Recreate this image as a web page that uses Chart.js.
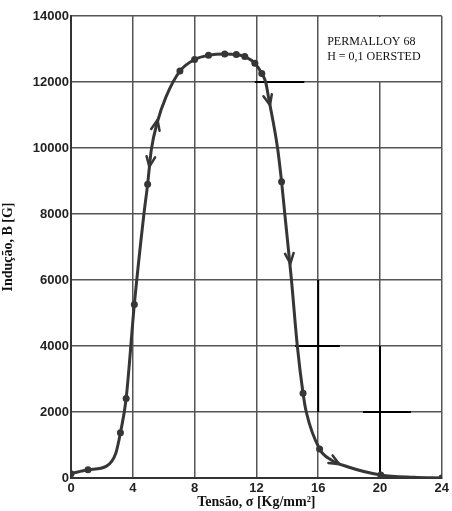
<!DOCTYPE html>
<html>
<head>
<meta charset="utf-8">
<script src="https://cdn.jsdelivr.net/npm/chart.js@4"></script>
<style>
  body { margin: 0; background: #fff; }
  #wrap { width: 452px; height: 511px; }
</style>
</head>
<body>
<div id="wrap"><canvas id="myChart"></canvas></div>
<script>
(function(){
// curve B(sigma)
const curveX = [0, 1.1, 2.3, 2.9, 3.2, 3.57, 4.1, 4.72, 4.96, 5.2, 5.6, 6.15, 7.05, 8.0, 8.9, 9.95, 10.7, 11.25, 11.9, 12.35, 12.6, 12.8, 13.37, 13.63, 13.84, 14.27, 14.65, 15.02, 15.23, 16.09, 16.84, 17.9, 20.05, 22.2, 24];
const curveY = [130, 250, 360, 750, 1370, 2410, 5260, 8000, 8900, 9950, 10800, 11550, 12330, 12680, 12810, 12850, 12830, 12770, 12570, 12260, 12000, 11500, 10000, 8980, 8000, 6000, 4000, 2570, 2000, 880, 545, 340, 90, 20, 0];

// measured points (dots)
const markX = [0, 1.1, 3.2, 3.57, 4.1, 4.96, 7.05, 8.0, 8.9, 9.95, 10.7, 11.25, 11.9, 12.35, 13.63, 15.02, 16.09, 20.05, 24];
const markY = [130, 250, 1370, 2410, 5260, 8900, 12330, 12680, 12810, 12850, 12830, 12770, 12570, 12260, 8980, 2570, 880, 90, 0];

// arrows on the curve: [fromX, fromY, tipX, tipY]
const arrows = [
  [5.18, 9940, 5.6, 10850],
  [5.35, 10300, 5.07, 9430],
  [12.45, 12150, 12.88, 11300],
  [13.95, 7650, 14.2, 6500],
  [16.5, 650, 17.37, 420]
];

// redrawn black grid pieces: [x0, y0, x1, y1]
const patches = [
  [11.9, 12000, 15.1, 12000],
  [16, 6000, 16, 2000],
  [14.5, 4000, 17.4, 4000],
  [20, 4000, 20, 0],
  [18.9, 2000, 22.0, 2000]
];

const xTicks = [0, 4, 8, 12, 16, 20, 24];
const yTicks = [0, 2000, 4000, 6000, 8000, 10000, 12000, 14000];
const boxLines = ['PERMALLOY 68', 'H = 0,1 OERSTED'];

const ink = '#363636';
const gridCol = '#555';

const extras = {
  id: 'extras',
  beforeDatasetsDraw(chart) {
    const {ctx, scales: {x, y}} = chart;
    // legend box: no x=20 line inside it
    ctx.save();
    ctx.fillStyle = '#fff';
    ctx.fillRect(x.getPixelForValue(16) + 1, y.getPixelForValue(14000) + 1,
      x.getPixelForValue(24) - x.getPixelForValue(16) - 2,
      y.getPixelForValue(12000) - y.getPixelForValue(14000) - 2);
    ctx.strokeStyle = '#000';
    ctx.lineWidth = 2;
    patches.forEach(p => {
      ctx.beginPath();
      ctx.moveTo(x.getPixelForValue(p[0]), y.getPixelForValue(p[1]));
      ctx.lineTo(x.getPixelForValue(p[2]), y.getPixelForValue(p[3]));
      ctx.stroke();
    });
    ctx.fillStyle = '#111';
    ctx.font = '12px "Liberation Serif", serif';
    ctx.textBaseline = 'middle';
    boxLines.forEach((t, i) => {
      ctx.fillText(t, x.getPixelForValue(16) + 9, y.getPixelForValue(14000) + 26 + i * 15);
    });
    ctx.restore();
  },
  afterDatasetsDraw(chart) {
    const {ctx, scales: {x, y}} = chart;
    ctx.save();
    ctx.strokeStyle = ink;
    ctx.lineWidth = 2.5;
    ctx.lineCap = 'round';
    arrows.forEach(a => {
      const x0 = x.getPixelForValue(a[0]), y0 = y.getPixelForValue(a[1]);
      const x1 = x.getPixelForValue(a[2]), y1 = y.getPixelForValue(a[3]);
      const ang = Math.atan2(y1 - y0, x1 - x0);
      const len = 11, spread = 0.4;
      ctx.beginPath();
      ctx.moveTo(x1 - len * Math.cos(ang - spread), y1 - len * Math.sin(ang - spread));
      ctx.lineTo(x1, y1);
      ctx.lineTo(x1 - len * Math.cos(ang + spread), y1 - len * Math.sin(ang + spread));
      ctx.stroke();
    });
    ctx.restore();
  }
};

const tickFont = {family: '"Liberation Sans", Arial, sans-serif', size: 13, weight: 'bold'};
const titleFont = {family: '"Liberation Serif", "Times New Roman", serif', size: 14, weight: 'bold'};

new Chart(document.getElementById('myChart'), {
  type: 'line',
  data: {
    datasets: [{
      data: curveX.map((v, i) => ({x: v, y: curveY[i]})),
      borderColor: ink,
      borderWidth: 3,
      pointRadius: 0,
      cubicInterpolationMode: 'monotone',
      fill: false
    }, {
      data: markX.map((v, i) => ({x: v, y: markY[i]})),
      showLine: false,
      pointRadius: 3.5,
      pointBackgroundColor: ink,
      pointBorderColor: ink,
      pointBorderWidth: 0
    }]
  },
  options: {
    responsive: true,
    maintainAspectRatio: false,
    animation: false,
    layout: {padding: {top: 16, right: 7, left: 0, bottom: 0}},
    plugins: {legend: {display: false}, tooltip: {enabled: false}},
    scales: {
      x: {
        type: 'linear',
        min: 0, max: 24,
        afterBuildTicks: s => { s.ticks = xTicks.map(v => ({value: v})); },
        afterFit: s => { s.height = 33; },
        grid: {color: gridCol, lineWidth: 1.5, drawTicks: false},
        border: {color: '#333', width: 2},
        ticks: {color: '#222', font: tickFont, padding: 3, maxRotation: 0, callback: v => String(v)},
        title: {display: true, text: 'Tensão, σ [Kg/mm²]', color: '#111', font: titleFont, padding: {top: 0, bottom: 0}}
      },
      y: {
        min: 0, max: 14000,
        afterBuildTicks: s => { s.ticks = yTicks.map(v => ({value: v})); },
        afterFit: s => { s.width = 71; },
        grid: {color: gridCol, lineWidth: 1.5, drawTicks: false},
        border: {color: '#333', width: 2},
        ticks: {color: '#222', font: tickFont, padding: 2, callback: v => String(v)},
        title: {display: true, text: 'Indução, B [G]', color: '#111', font: titleFont, padding: {top: 0, bottom: 0}}
      }
    }
  },
  plugins: [extras]
});
})();
</script>
</body>
</html>
